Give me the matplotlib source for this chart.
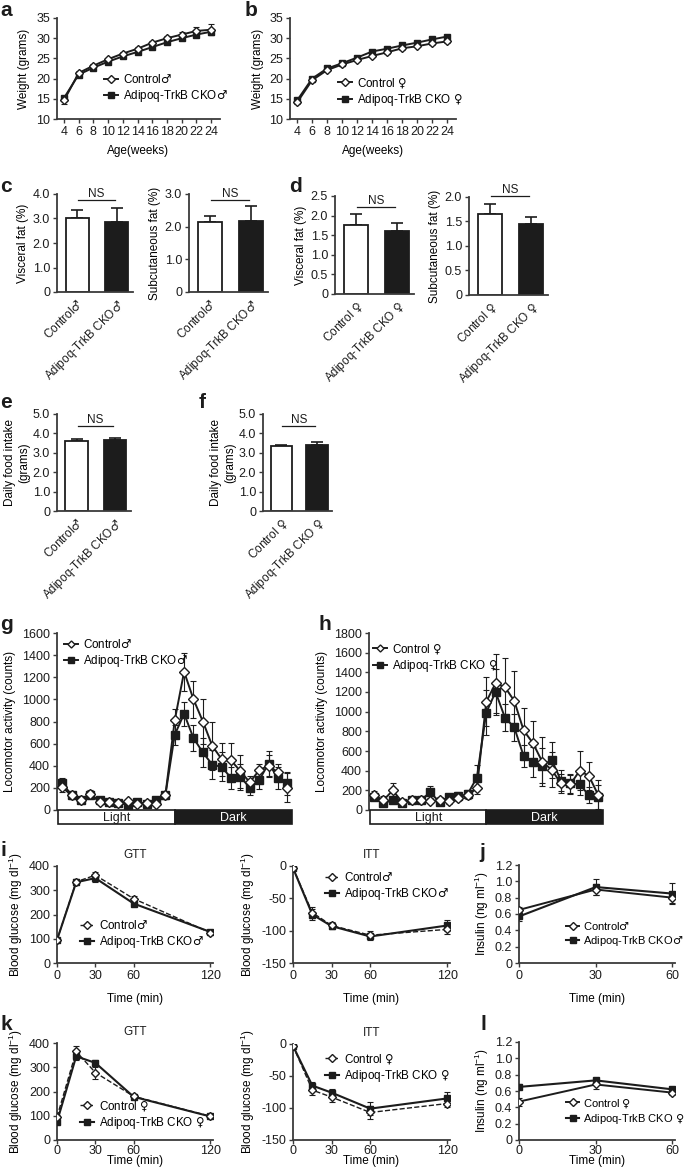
import matplotlib
matplotlib.use("Agg")
import matplotlib.pyplot as plt
from matplotlib.patches import Rectangle
from matplotlib.ticker import FuncFormatter

plt.rcParams['font.family'] = ['Liberation Sans', 'DejaVu Sans']
plt.rcParams['axes.unicode_minus'] = False
plt.rcParams['mathtext.default'] = 'regular'
plt.rcParams['mathtext.fontset'] = 'custom'
plt.rcParams['mathtext.sf'] = 'DejaVu Sans'

W, H = 685, 1168
INK = '#1c1c1c'
SPINE = '#3a3a3a'

# ---------------- data ----------------
age = [4, 6, 8, 10, 12, 14, 16, 18, 20, 22, 24]
a_ctrl = [14.6, 21.4, 23.2, 24.8, 26.2, 27.4, 28.9, 30.0, 30.9, 31.8, 32.1]
a_ctrl_err = [0.9, 0.4, 0.4, 0.4, 0.4, 0.4, 0.4, 0.5, 0.6, 0.9, 1.3]
a_cko = [15.2, 21.0, 22.7, 24.2, 25.5, 26.6, 27.8, 29.0, 30.0, 30.9, 31.6]
a_cko_err = [0.6, 0.4, 0.4, 0.4, 0.3, 0.3, 0.4, 0.4, 0.4, 0.5, 0.8]
b_ctrl = [14.1, 19.6, 22.1, 23.5, 24.6, 25.6, 26.5, 27.5, 28.0, 28.7, 29.2]
b_ctrl_err = [0.5, 0.4, 0.3, 0.3, 0.3, 0.3, 0.3, 0.3, 0.3, 0.3, 0.4]
b_cko = [14.6, 20.0, 22.5, 23.8, 25.2, 26.7, 27.4, 28.2, 28.9, 29.7, 30.4]
b_cko_err = [0.5, 0.4, 0.3, 0.3, 0.3, 0.3, 0.3, 0.3, 0.4, 0.4, 0.5]

male = ['Control$\\mathsf{\u2642}$', 'Adipoq-TrkB CKO$\\mathsf{\u2642}$']
female = ['Control $\\mathsf{\u2640}$', 'Adipoq-TrkB CKO $\\mathsf{\u2640}$']

c_visc, c_visc_err = [3.02, 2.85], [0.33, 0.56]
c_subq, c_subq_err = [2.13, 2.18], [0.20, 0.45]
d_visc, d_visc_err = [1.77, 1.61], [0.28, 0.20]
d_subq, d_subq_err = [1.66, 1.44], [0.20, 0.16]
e_food, e_food_err = [3.62, 3.66], [0.08, 0.11]
f_food, f_food_err = [3.33, 3.40], [0.07, 0.14]

hours = list(range(25))
g_ctrl = [206, 133, 89, 149, 70, 70, 63, 79, 57, 63, 57, 133,
          810, 1250, 1000, 800, 580, 460, 450, 350, 250, 360, 400, 340, 200]
g_ctrl_err = [40, 30, 20, 30, 20, 15, 15, 20, 15, 15, 15, 30,
              100, 170, 170, 200, 220, 150, 160, 150, 60, 60, 100, 80, 130]
g_cko = [248, 133, 89, 133, 89, 70, 63, 48, 70, 57, 89, 133,
         680, 870, 650, 520, 410, 390, 290, 300, 200, 270, 420, 290, 240]
g_cko_err = [40, 30, 20, 30, 20, 15, 15, 15, 15, 15, 20, 30,
             90, 110, 120, 130, 130, 130, 100, 120, 60, 80, 110, 100, 100]
h_ctrl = [150, 100, 200, 80, 100, 100, 90, 100, 90, 120, 150, 220,
          1100, 1290, 1250, 1110, 810, 680, 490, 410, 270, 260, 400, 345, 150]
h_ctrl_err = [40, 40, 70, 30, 30, 30, 20, 30, 30, 30, 40, 60,
              250, 300, 300, 300, 230, 230, 250, 180, 100, 100, 200, 140, 160]
h_cko = [130, 70, 100, 70, 100, 100, 180, 80, 130, 140, 160, 330,
         990, 1200, 940, 840, 550, 490, 450, 510, 300, 270, 260, 150, 130]
h_cko_err = [30, 30, 30, 20, 30, 30, 60, 30, 30, 40, 40, 130,
             230, 230, 140, 140, 110, 150, 180, 180, 110, 100, 110, 80, 120]

t_tol = [0, 15, 30, 60, 120]
i_gtt_ctrl, i_gtt_ctrl_err = [95, 335, 362, 265, 125], [8, 10, 15, 10, 8]
i_gtt_cko, i_gtt_cko_err = [95, 333, 350, 245, 128], [8, 12, 15, 10, 8]
i_itt_ctrl, i_itt_ctrl_err = [-3, -72, -92, -107, -98], [2, 8, 5, 6, 7]
i_itt_cko, i_itt_cko_err = [-3, -75, -93, -109, -92], [2, 8, 5, 6, 8]
k_gtt_ctrl, k_gtt_ctrl_err = [95, 365, 278, 180, 98], [10, 22, 25, 10, 6]
k_gtt_cko, k_gtt_cko_err = [75, 345, 318, 178, 97], [8, 15, 10, 8, 6]
k_itt_ctrl, k_itt_ctrl_err = [-3, -72, -83, -107, -93], [2, 7, 7, 10, 5]
k_itt_cko, k_itt_cko_err = [-3, -65, -76, -101, -85], [2, 5, 6, 10, 10]

t_ins = [0, 30, 60]
j_ctrl, j_ctrl_err = [0.65, 0.90, 0.80], [0.03, 0.07, 0.07]
j_cko, j_cko_err = [0.57, 0.93, 0.85], [0.05, 0.10, 0.13]
l_ctrl, l_ctrl_err = [0.47, 0.68, 0.58], [0.05, 0.06, 0.03]
l_cko, l_cko_err = [0.65, 0.73, 0.62], [0.03, 0.03, 0.02]

# ---------------- helpers ----------------
fig = plt.figure(figsize=(W / 100, H / 100), dpi=100)


def axpx(l, t, r, b):
    return fig.add_axes([l / W, 1 - b / H, (r - l) / W, (b - t) / H])


def style(ax, bottom=True):
    for s in ['top', 'right']:
        ax.spines[s].set_visible(False)
    for s in ['left', 'bottom']:
        ax.spines[s].set_linewidth(1.3)
        ax.spines[s].set_color(SPINE)
    if not bottom:
        ax.spines['bottom'].set_visible(False)
    ax.tick_params(direction='out', length=3, width=1.0, labelsize=9, pad=2,
                   colors=SPINE, labelcolor=INK)


def ftext(x, y, s, **kw):
    fig.text(x / W, 1 - y / H, s, **kw)


def letter(x, y, s):
    ftext(x, y, s, fontsize=15, fontweight='bold', va='center', ha='left', color=INK)


def legend(ax, x, y, mscale=1.0, fs=8.4, tpad=0.4):
    h_, lb = ax.get_legend_handles_labels()
    ax.legend(h_[::-1], lb[::-1], loc='upper left', bbox_to_anchor=(x / W, 1 - y / H),
              bbox_transform=fig.transFigure, frameon=False, fontsize=fs,
              borderpad=0, borderaxespad=0, handlelength=1.2, handletextpad=tpad,
              labelspacing=0.2, markerscale=mscale)


dec1 = FuncFormatter(lambda v, p: '0' if abs(v) < 1e-9 else f'{v:.1f}')


def series(ax, x, y, err, ctrl, label, ms=4.5, dashed=False, lw=1.4):
    ax.errorbar(x, y, yerr=err, fmt='none', ecolor=INK, elinewidth=0.8,
                capsize=2, capthick=0.8, zorder=3 if ctrl else 2)
    if ctrl:
        ax.plot(x, y, ls='--' if dashed else '-', lw=1.0 if dashed else lw, color=INK,
                marker='D', ms=ms, mfc='white', mec=INK, mew=1.0, label=label, zorder=4)
    else:
        ax.plot(x, y, ls='-', lw=lw, color=INK, marker='s', ms=ms, mfc=INK,
                mec=INK, label=label, zorder=3)


# ---------------- a / b weight ----------------
for (l, r), yc, ycerr, yk, ykerr, labs, lx, ly in [
        ((57, 220), a_ctrl, a_ctrl_err, a_cko, a_cko_err, male, 104, 74),
        ((290, 456), b_ctrl, b_ctrl_err, b_cko, b_cko_err, female, 338, 76)]:
    ax = axpx(l, 18, r, 119)
    style(ax)
    series(ax, age, yk, ykerr, False, labs[1], ms=4.2)
    series(ax, age, yc, ycerr, True, labs[0], ms=4)
    ax.set_xlim(3.05, 25.2)
    ax.set_ylim(10, 35)
    ax.set_xticks(age)
    ax.set_yticks(range(10, 36, 5))
    ax.set_ylabel('Weight (grams)', fontsize=8.5, labelpad=4)
    ax.set_xlabel('Age(weeks)', fontsize=8.5, labelpad=5)
    legend(ax, lx, ly)

letter(0, 11, 'a')
letter(245, 11, 'b')


# ---------------- bar panels ----------------
def bars(box, vals, errs, labs, ylim, yticks, ylabel, ns_y, lpad=3):
    ax = axpx(*box)
    style(ax)
    ax.bar([0, 1], vals, width=0.6, color=['white', INK], edgecolor=INK,
           linewidth=1.3, zorder=2)
    for i in range(2):
        ax.errorbar([i], [vals[i]], yerr=[[0], [errs[i]]], fmt='none', ecolor=INK,
                    elinewidth=1.2, capsize=4, capthick=1.2, zorder=1)
    ax.set_xlim(-0.52, 1.42)
    ax.set_ylim(*ylim)
    ax.set_yticks(yticks)
    ax.yaxis.set_major_formatter(dec1)
    ax.set_xticks([0, 1])
    ax.set_xticklabels(labs, rotation=45, ha='right', rotation_mode='anchor',
                       fontsize=8.5)
    ax.tick_params(axis='x', length=0, pad=4)
    ax.set_ylabel(ylabel, fontsize=8.5, labelpad=lpad)
    ax.plot([0.02, 0.95], [ns_y, ns_y], color=INK, lw=0.9, clip_on=False)
    ax.text(0.485, ns_y, 'NS', ha='center', va='bottom', fontsize=8.5, color=INK,
            clip_on=False)
    return ax


bars((57, 194, 133, 292), c_visc, c_visc_err, male, (0, 4), [0, 1, 2, 3, 4],
     'Visceral fat (%)', 3.75)
bars((189, 194, 268, 292), c_subq, c_subq_err, male, (0, 3), [0, 1, 2, 3],
     'Subcutaneous fat (%)', 2.81)
bars((335, 196, 414, 294), d_visc, d_visc_err, female, (0, 2.5),
     [0, 0.5, 1, 1.5, 2, 2.5], 'Visceral fat (%)', 2.23)
bars((469, 197, 548, 295), d_subq, d_subq_err, female, (0, 2),
     [0, 0.5, 1, 1.5, 2], 'Subcutaneous fat (%)', 2.03)
bars((57, 414, 131, 511), e_food, e_food_err, male, (0, 5), [0, 1, 2, 3, 4, 5],
     'Daily food intake\n(grams)', 4.4, lpad=2)
bars((263, 414, 332, 511), f_food, f_food_err, female, (0, 5), [0, 1, 2, 3, 4, 5],
     'Daily food intake\n(grams)', 4.4, lpad=2)

letter(0, 186, 'c')
letter(289, 186, 'd')
letter(0, 403, 'e')
letter(199, 403, 'f')


# ---------------- g / h locomotor ----------------
def activity(l, r, yc, ycerr, yk, ykerr, labs, ymax, lx, ly):
    ax = axpx(l, 633, r, 810)
    style(ax, bottom=False)
    series(ax, hours, yk, ykerr, False, labs[1], ms=5.8)
    series(ax, hours, yc, ycerr, True, labs[0], ms=5.5)
    ax.set_xlim(-0.55, 24.5)
    ax.set_ylim(0, ymax)
    ax.set_yticks(range(0, ymax + 1, 200))
    ax.set_xticks([])
    ax.set_ylabel('Locomotor activity (counts)', fontsize=8.5, labelpad=4)
    legend(ax, lx, ly, mscale=0.65)
    bar = axpx(l, 810, r, 824)
    bar.set_xlim(-0.55, 24.5)
    bar.set_ylim(0, 1)
    bar.axis('off')
    bar.add_patch(Rectangle((-0.4, 0.03), 12.4, 0.94, facecolor='white',
                            edgecolor=INK, lw=1.2, clip_on=False))
    bar.add_patch(Rectangle((12, 0.03), 12.45, 0.94, facecolor=INK,
                            edgecolor=INK, lw=1.2, clip_on=False))
    bar.text(5.8, 0.45, 'Light', ha='center', va='center', fontsize=9, color=INK)
    bar.text(18.2, 0.45, 'Dark', ha='center', va='center', fontsize=9, color='white')


activity(57, 292, g_ctrl, g_ctrl_err, g_cko, g_cko_err, male, 1600, 64, 639)
activity(369, 603, h_ctrl, h_ctrl_err, h_cko, h_cko_err, female, 1800, 373, 642)
letter(0, 624, 'g')
letter(318, 624, 'h')


# ---------------- i / k tolerance tests ----------------
def tol(box, yc, ycerr, yk, ykerr, labs, ylim, yticks, title, lx, ly, xpad, tpad=2):
    ax = axpx(*box)
    style(ax)
    ax.tick_params(axis='x', pad=tpad)
    series(ax, t_tol, yk, ykerr, False, labs[1], ms=4.2, lw=1.5)
    series(ax, t_tol, yc, ycerr, True, labs[0], ms=4.2, dashed=True)
    ax.set_xlim(0, 122)
    ax.set_ylim(*ylim)
    ax.set_yticks(yticks)
    ax.set_xticks([0, 30, 60, 120])
    ax.set_ylabel('Blood glucose (mg dl$^{-1}$)', fontsize=8.5, labelpad=3)
    ax.set_xlabel('Time (min)', fontsize=8.5, labelpad=xpad)
    ax.set_title(title, fontsize=8.5, pad=6, color=INK)
    legend(ax, lx, ly, mscale=0.9)


def insulin(box, yc, ycerr, yk, ykerr, labs, lx, ly, xpad, tpad=2):
    ax = axpx(*box)
    style(ax)
    ax.tick_params(axis='x', pad=tpad)
    series(ax, t_ins, yk, ykerr, False, labs[1], ms=5, lw=1.5)
    series(ax, t_ins, yc, ycerr, True, labs[0], ms=4.5)
    ax.set_xlim(0, 61)
    ax.set_ylim(0, 1.2)
    ax.set_yticks([0, 0.2, 0.4, 0.6, 0.8, 1.0, 1.2])
    ax.yaxis.set_major_formatter(dec1)
    ax.set_xticks([0, 30, 60])
    ax.set_ylabel('Insulin (ng ml$^{-1}$)', fontsize=8.5, labelpad=3)
    ax.set_xlabel('Time (min)', fontsize=8.5, labelpad=xpad)
    legend(ax, lx, ly, mscale=0.9, fs=8.0, tpad=0.3)


tol((57, 866, 213, 963), i_gtt_ctrl, i_gtt_ctrl_err, i_gtt_cko, i_gtt_cko_err, male,
    (0, 400), [0, 100, 200, 300, 400], 'GTT', 80, 920, 8)
tol((293, 866, 450, 963), i_itt_ctrl, i_itt_ctrl_err, i_itt_cko, i_itt_cko_err, male,
    (-150, 0), [-150, -100, -50, 0], 'ITT', 325, 872, 8)
insulin((519, 865, 675, 963), j_ctrl, j_ctrl_err, j_cko, j_cko_err, male, 566, 920, 8)

tol((57, 1043, 213, 1140), k_gtt_ctrl, k_gtt_ctrl_err, k_gtt_cko, k_gtt_cko_err, female,
    (0, 400), [0, 100, 200, 300, 400], 'GTT', 80, 1099, -1.5, tpad=0.5)
tol((293, 1044, 450, 1140), k_itt_ctrl, k_itt_ctrl_err, k_itt_cko, k_itt_cko_err, female,
    (-150, 0), [-150, -100, -50, 0], 'ITT', 325, 1052, -1.5, tpad=0.5)
insulin((519, 1042, 675, 1140), l_ctrl, l_ctrl_err, l_cko, l_cko_err, female, 566, 1097,
        -1.5, tpad=0.5)

letter(0, 851, 'i')
letter(479, 853, 'j')
letter(0, 1024, 'k')
letter(481, 1024, 'l')

fig.savefig('out.png', dpi=100)
